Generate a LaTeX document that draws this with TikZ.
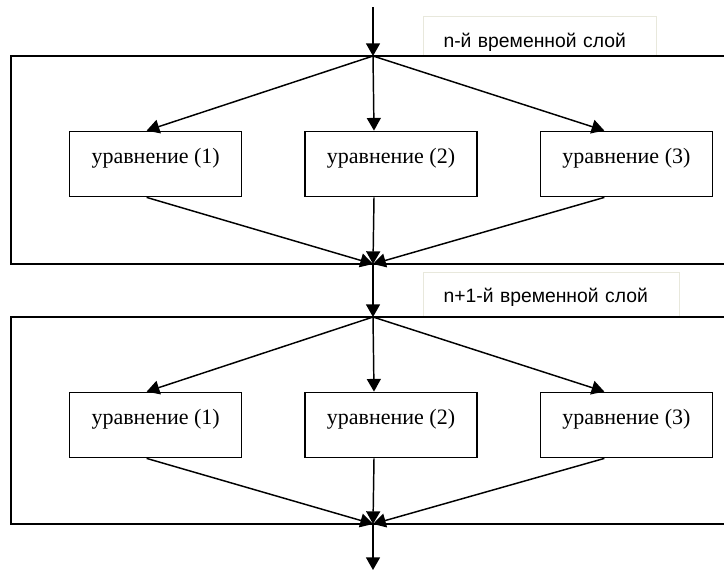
\documentclass[tikz,border=0pt]{standalone}
\usepackage{fontspec}
\setmainfont{Liberation Serif}
\newfontfamily\labelfont{Liberation Sans}
\usepackage{tikz}
\usetikzlibrary{arrows.meta,positioning}
\definecolor{lblgray}{RGB}{232,232,220}

\begin{document}
\begin{tikzpicture}[x=0.75pt,y=-0.75pt,line width=1.1pt,
    >={Triangle[length=9.5pt,width=10.5pt]},
    node distance=176.5pt,on grid,
    eqbox/.style={draw,rectangle,minimum width=129pt,inner sep=0pt,
      text height=24pt,text depth=25pt,font=\fontsize{16.5}{18}\selectfont},
    layerlbl/.style={draw=lblgray,line width=0.8pt,anchor=south west,
      inner xsep=15pt,inner ysep=0pt,align=left,
      font=\labelfont\fontsize{14.5}{16}\selectfont}]
    \useasboundingbox (0,0) rectangle (724,572);

    % n-th time layer
    \node[layerlbl,text width=144.75pt,text height=23.25pt,text depth=6pt] (lbl_1) at (423,56) {n-й временной слой};
    \draw (11,56) rectangle (730,264);
    \coordinate (start) at (373,7);
    \coordinate (in_1)  at (373,56);
    \coordinate (out_1) at (373,264);
    \node[eqbox] (eq_2) at (391,164)  {уравнение (2)};
    \node[eqbox] (eq_1) [left=of eq_2]  {уравнение (1)};
    \node[eqbox] (eq_3) [right=of eq_2] {уравнение (3)};

    % n+1-th time layer
    \node[layerlbl,text width=162pt,text height=22.5pt,text depth=10.5pt] (lbl_2) at (423,317) {n+1-й временной слой};
    \draw (11,317) rectangle (730,524);
    \coordinate (in_2)  at (373,317);
    \coordinate (out_2) at (373,524);
    \coordinate (stop)  at (373,570);
    \node[eqbox] (eq_5) [below=195.75pt of eq_2] {уравнение (2)};
    \node[eqbox] (eq_4) [left=of eq_5]  {уравнение (1)};
    \node[eqbox] (eq_6) [right=of eq_5] {уравнение (3)};

    \path[->]
    (start) edge (in_1)
    % fan out, layer n
    (in_1) edge ([xshift=-6.75pt]eq_1.north)
    (in_1) edge ([xshift=-12.75pt]eq_2.north)
    (in_1) edge ([xshift=-16.5pt]eq_3.north)
    % fan in, layer n
    ([xshift=-6.75pt]eq_1.south) edge (out_1)
    ([xshift=-12.75pt]eq_2.south) edge (out_1)
    ([xshift=-16.5pt]eq_3.south) edge (out_1)
    (out_1) edge (in_2)
    % fan out, layer n+1
    (in_2) edge ([xshift=-6.75pt]eq_4.north)
    (in_2) edge ([xshift=-12.75pt]eq_5.north)
    (in_2) edge ([xshift=-16.5pt]eq_6.north)
    % fan in, layer n+1
    ([xshift=-6.75pt]eq_4.south) edge (out_2)
    ([xshift=-12.75pt]eq_5.south) edge (out_2)
    ([xshift=-16.5pt]eq_6.south) edge (out_2)
    (out_2) edge (stop);
\end{tikzpicture}
\end{document}
